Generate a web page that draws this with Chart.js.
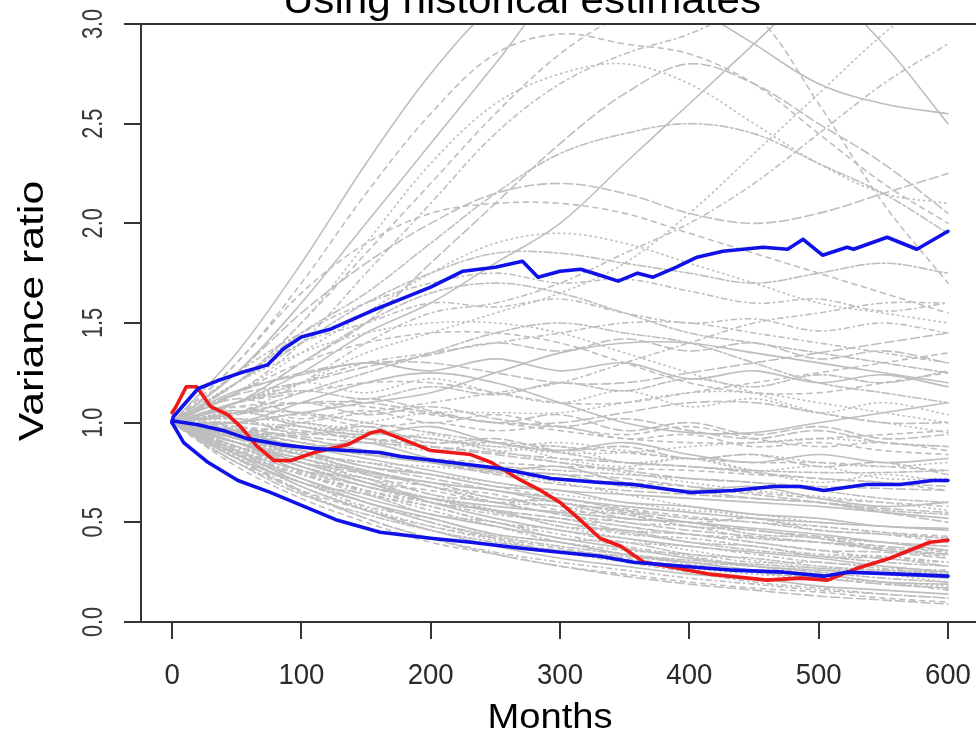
<!DOCTYPE html>
<html>
<head>
<meta charset="utf-8">
<script src="https://cdn.jsdelivr.net/npm/chart.js@4.4.1/dist/chart.umd.min.js"></script>
<style>
  html, body { margin: 0; padding: 0; background: #fff; }
  #wrap { position: relative; width: 976px; height: 739px; overflow: hidden; }
  #box { position: absolute; left: 0; top: -40px; width: 1010px; height: 779px; }
</style>
</head>
<body>
<div id="wrap"><div id="box"><canvas id="varianceChart"></canvas></div></div>
<script>
var months = [0, 50, 100, 150, 200, 250, 300, 350, 400, 450, 500, 550, 600];
var xTicks = [0, 100, 200, 300, 400, 500, 600];
var yTicks = [0, 0.5, 1, 1.5, 2, 2.5, 3];

// simulated paths (grey), read at every 50 months
var grayRuns = [
    [1.0, 1.25, 1.6, 2.0, 2.4, 2.8, 3.2, 3.4, 3.5, 3.3, 3.2, 2.9, 2.5],
    [1.0, 1.3, 1.7, 2.15, 2.55, 2.85, 2.95, 2.9, 2.85, 2.7, 2.45, 2.2, 2.0],
    [1.0, 1.2, 1.5, 1.9, 2.3, 2.6, 2.75, 2.8, 2.7, 2.5, 2.3, 2.15, 2.1],
    [1.0, 1.15, 1.4, 1.75, 2.1, 2.45, 2.7, 2.85, 2.95, 3.1, 3.2, 3.2, 3.1],
    [1.0, 1.1, 1.3, 1.5, 1.8, 2.1, 2.4, 2.65, 2.8, 2.7, 2.5, 2.3, 2.05],
    [1.0, 1.2, 1.45, 1.65, 1.9, 2.15, 2.35, 2.45, 2.5, 2.45, 2.3, 2.15, 1.95],
    [1.0, 1.1, 1.25, 1.45, 1.6, 1.8, 2.0, 2.3, 2.6, 2.9, 3.2, 3.4, 3.5],
    [1.0, 1.3, 1.65, 1.9, 2.05, 2.1, 2.1, 2.05, 1.95, 1.85, 1.75, 1.65, 1.55],
    [1.0, 1.15, 1.35, 1.55, 1.75, 1.9, 1.95, 1.9, 1.8, 1.7, 1.6, 1.55, 1.5],
    [1.0, 1.05, 1.2, 1.4, 1.55, 1.6, 1.7, 1.85, 2.0, 2.2, 2.45, 2.7, 2.9],
    [1.0, 1.25, 1.55, 1.8, 2.0, 2.15, 2.2, 2.15, 2.05, 2.0, 2.05, 2.15, 2.25],
    [1.0, 1.2, 1.4, 1.6, 1.75, 1.85, 1.85, 1.8, 1.75, 1.7, 1.75, 1.8, 1.75],
    [1.0, 1.35, 1.8, 2.3, 2.75, 3.1, 3.3, 3.3, 3.1, 2.9, 2.7, 2.6, 2.55],
    [1.0, 1.2, 1.5, 1.85, 2.2, 2.55, 2.85, 3.05, 3.15, 3.05, 2.6, 2.1, 1.7],
    [1.0, 1.1, 1.2, 1.35, 1.45, 1.55, 1.65, 1.8, 2.05, 2.35, 2.65, 2.95, 3.2],
    [1.0, 1.1, 1.2, 1.3, 1.35, 1.4, 1.45, 1.5, 1.5, 1.45, 1.4, 1.35, 1.3],
    [1.0, 1.15, 1.25, 1.3, 1.3, 1.25, 1.2, 1.2, 1.25, 1.3, 1.35, 1.4, 1.45],
    [1.0, 1.05, 1.15, 1.25, 1.35, 1.45, 1.5, 1.45, 1.4, 1.3, 1.2, 1.15, 1.1],
    [1.0, 1.0, 1.05, 1.1, 1.15, 1.25, 1.35, 1.4, 1.4, 1.35, 1.3, 1.25, 1.2],
    [1.0, 1.1, 1.15, 1.2, 1.2, 1.15, 1.1, 1.1, 1.15, 1.2, 1.25, 1.3, 1.35],
    [1.0, 1.2, 1.35, 1.45, 1.5, 1.5, 1.45, 1.35, 1.25, 1.15, 1.05, 1.0, 0.95],
    [1.0, 0.95, 1.0, 1.05, 1.1, 1.15, 1.2, 1.3, 1.4, 1.5, 1.55, 1.6, 1.6],
    [1.0, 1.05, 1.1, 1.1, 1.05, 1.0, 1.0, 1.05, 1.1, 1.1, 1.05, 1.0, 1.0],
    [1.0, 1.1, 1.3, 1.5, 1.65, 1.7, 1.65, 1.55, 1.45, 1.4, 1.35, 1.3, 1.25],
    [1.0, 1.0, 1.1, 1.2, 1.25, 1.2, 1.1, 1.0, 0.95, 0.95, 1.0, 1.05, 1.1],
    [1.0, 1.15, 1.3, 1.4, 1.45, 1.45, 1.4, 1.3, 1.2, 1.15, 1.15, 1.2, 1.25],
    [1.0, 0.95, 0.95, 1.0, 1.05, 1.05, 1.05, 1.1, 1.15, 1.15, 1.1, 1.05, 1.0],
    [1.0, 0.85, 0.7, 0.6, 0.5, 0.42, 0.35, 0.3, 0.25, 0.2, 0.17, 0.14, 0.12],
    [1.0, 0.82, 0.65, 0.52, 0.42, 0.34, 0.28, 0.23, 0.19, 0.16, 0.13, 0.11, 0.09],
    [1.0, 0.88, 0.78, 0.7, 0.62, 0.55, 0.5, 0.45, 0.4, 0.36, 0.33, 0.3, 0.28],
    [1.0, 0.9, 0.82, 0.75, 0.7, 0.66, 0.62, 0.58, 0.55, 0.52, 0.5, 0.48, 0.46],
    [1.0, 0.95, 0.9, 0.85, 0.8, 0.75, 0.72, 0.7, 0.68, 0.65, 0.62, 0.6, 0.58],
    [1.0, 0.92, 0.85, 0.8, 0.78, 0.75, 0.7, 0.64, 0.58, 0.52, 0.48, 0.45, 0.42],
    [1.0, 0.86, 0.74, 0.66, 0.6, 0.56, 0.52, 0.48, 0.44, 0.4, 0.36, 0.32, 0.3],
    [1.0, 0.97, 0.93, 0.9, 0.88, 0.85, 0.82, 0.8, 0.78, 0.75, 0.72, 0.7, 0.68],
    [1.0, 0.8, 0.64, 0.54, 0.46, 0.4, 0.36, 0.33, 0.3, 0.28, 0.25, 0.22, 0.2],
    [1.0, 0.9, 0.8, 0.7, 0.6, 0.52, 0.46, 0.42, 0.38, 0.35, 0.32, 0.28, 0.25],
    [1.0, 0.98, 0.95, 0.92, 0.9, 0.9, 0.88, 0.85, 0.82, 0.8, 0.8, 0.78, 0.76],
    [1.0, 1.0, 0.98, 0.95, 0.92, 0.88, 0.85, 0.85, 0.88, 0.9, 0.92, 0.9, 0.88],
    [1.0, 0.88, 0.76, 0.66, 0.58, 0.5, 0.44, 0.38, 0.33, 0.28, 0.24, 0.2, 0.16],
    [1.0, 0.93, 0.86, 0.78, 0.72, 0.66, 0.6, 0.55, 0.5, 0.46, 0.43, 0.4, 0.38],
    [1.0, 0.96, 0.9, 0.84, 0.8, 0.78, 0.76, 0.74, 0.72, 0.7, 0.66, 0.62, 0.6],
    [1.0, 0.84, 0.72, 0.62, 0.54, 0.48, 0.42, 0.37, 0.32, 0.28, 0.26, 0.24, 0.22],
    [1.0, 0.9, 0.84, 0.8, 0.74, 0.68, 0.62, 0.57, 0.53, 0.5, 0.48, 0.45, 0.43],
    [1.0, 1.02, 1.0, 0.96, 0.92, 0.86, 0.8, 0.75, 0.7, 0.66, 0.63, 0.6, 0.56],
    [1.0, 0.87, 0.75, 0.65, 0.56, 0.48, 0.4, 0.34, 0.29, 0.25, 0.22, 0.19, 0.17],
    [1.0, 0.94, 0.88, 0.84, 0.8, 0.76, 0.74, 0.72, 0.68, 0.64, 0.6, 0.55, 0.5],
    [1.0, 1.05, 1.05, 1.0, 0.95, 0.9, 0.85, 0.8, 0.78, 0.76, 0.75, 0.75, 0.76],
    [1.0, 0.9, 0.78, 0.68, 0.62, 0.58, 0.55, 0.52, 0.5, 0.47, 0.44, 0.4, 0.36],
    [1.0, 0.98, 0.92, 0.86, 0.82, 0.8, 0.78, 0.77, 0.76, 0.74, 0.72, 0.7, 0.66],
    [1.0, 0.83, 0.68, 0.57, 0.48, 0.41, 0.35, 0.31, 0.27, 0.24, 0.22, 0.2, 0.18],
    [1.0, 0.92, 0.84, 0.76, 0.68, 0.6, 0.54, 0.48, 0.44, 0.42, 0.4, 0.38, 0.35],
    [1.0, 1.0, 0.96, 0.92, 0.88, 0.84, 0.8, 0.76, 0.72, 0.7, 0.68, 0.67, 0.66],
    [1.0, 0.86, 0.72, 0.6, 0.5, 0.43, 0.38, 0.34, 0.31, 0.29, 0.27, 0.26, 0.25],
    [1.0, 0.95, 0.88, 0.82, 0.76, 0.7, 0.66, 0.64, 0.62, 0.6, 0.58, 0.55, 0.52],
    [1.0, 1.08, 1.1, 1.08, 1.04, 1.0, 0.96, 0.92, 0.9, 0.9, 0.92, 0.94, 0.96],
    [1.0, 0.9, 0.8, 0.72, 0.64, 0.56, 0.48, 0.42, 0.36, 0.31, 0.27, 0.24, 0.2],
    [1.0, 0.82, 0.66, 0.52, 0.42, 0.35, 0.3, 0.26, 0.22, 0.19, 0.16, 0.14, 0.12],
    [1.0, 0.96, 0.92, 0.86, 0.8, 0.74, 0.69, 0.66, 0.64, 0.62, 0.6, 0.57, 0.55],
    [1.0, 0.9, 0.86, 0.74, 0.7, 0.62, 0.6, 0.52, 0.5, 0.44, 0.42, 0.36, 0.34],
    [1.0, 1.06, 0.98, 0.94, 0.98, 0.9, 0.86, 0.9, 0.84, 0.8, 0.84, 0.8, 0.82],
    [1.0, 0.85, 0.8, 0.7, 0.66, 0.6, 0.62, 0.56, 0.5, 0.52, 0.46, 0.44, 0.4],
    [1.0, 0.94, 1.0, 0.92, 0.86, 0.9, 0.82, 0.78, 0.82, 0.76, 0.7, 0.74, 0.7],
    [1.0, 0.8, 0.7, 0.58, 0.52, 0.44, 0.4, 0.36, 0.34, 0.3, 0.3, 0.27, 0.26],
    [1.0, 1.12, 1.05, 1.12, 1.06, 1.0, 1.04, 0.96, 1.0, 0.94, 0.98, 0.92, 0.94],
    [1.0, 0.9, 0.76, 0.72, 0.6, 0.56, 0.48, 0.46, 0.4, 0.38, 0.33, 0.32, 0.28],
    [1.0, 0.96, 0.88, 0.9, 0.82, 0.76, 0.78, 0.7, 0.66, 0.68, 0.62, 0.58, 0.6],
    [1.0, 0.78, 0.62, 0.5, 0.4, 0.34, 0.28, 0.24, 0.2, 0.17, 0.15, 0.12, 0.1],
    [1.0, 1.1, 1.2, 1.15, 1.22, 1.15, 1.1, 1.16, 1.08, 1.12, 1.05, 1.1, 1.04],
    [1.0, 0.88, 0.82, 0.72, 0.68, 0.6, 0.58, 0.5, 0.48, 0.42, 0.4, 0.36, 0.33],
    [1.0, 1.02, 0.94, 0.98, 0.9, 0.92, 0.86, 0.88, 0.82, 0.84, 0.78, 0.8, 0.74],
    [1.0, 0.86, 0.7, 0.64, 0.54, 0.5, 0.42, 0.4, 0.34, 0.32, 0.28, 0.26, 0.24],
    [1.0, 1.16, 1.24, 1.3, 1.26, 1.32, 1.26, 1.3, 1.22, 1.26, 1.2, 1.24, 1.18],
    [1.0, 0.92, 0.8, 0.76, 0.68, 0.64, 0.56, 0.54, 0.48, 0.46, 0.42, 0.38, 0.36],
    [1.0, 0.95, 0.98, 0.9, 0.94, 0.86, 0.88, 0.8, 0.82, 0.76, 0.78, 0.72, 0.72],
    [1.0, 0.84, 0.74, 0.64, 0.58, 0.5, 0.46, 0.4, 0.38, 0.34, 0.3, 0.28, 0.25],
    [1.0, 1.04, 1.1, 1.04, 1.08, 1.02, 0.98, 1.02, 0.96, 0.92, 0.96, 0.9, 0.88],
    [1.0, 0.9, 0.84, 0.76, 0.7, 0.66, 0.6, 0.56, 0.52, 0.5, 0.46, 0.44, 0.42],
    [1.0, 0.82, 0.7, 0.6, 0.52, 0.44, 0.4, 0.34, 0.3, 0.26, 0.24, 0.2, 0.19],
    [1.0, 1.08, 1.02, 1.06, 1.0, 1.04, 0.98, 0.94, 0.98, 0.92, 0.88, 0.9, 0.86],
    [1.0, 0.93, 0.84, 0.8, 0.74, 0.7, 0.64, 0.6, 0.56, 0.54, 0.5, 0.48, 0.46],
    [1.0, 0.88, 0.78, 0.68, 0.6, 0.54, 0.5, 0.44, 0.42, 0.38, 0.34, 0.33, 0.3],
    [1.0, 1.14, 1.2, 1.28, 1.34, 1.4, 1.36, 1.42, 1.36, 1.4, 1.32, 1.36, 1.3],
    [1.0, 0.96, 0.9, 0.84, 0.82, 0.76, 0.74, 0.68, 0.66, 0.62, 0.6, 0.56, 0.54],
    [1.0, 0.84, 0.68, 0.56, 0.46, 0.38, 0.32, 0.28, 0.24, 0.22, 0.18, 0.16, 0.14],
    [1.0, 1.0, 1.04, 0.98, 1.0, 0.96, 0.98, 0.92, 0.94, 0.88, 0.9, 0.86, 0.84],
    [1.0, 0.9, 0.82, 0.76, 0.68, 0.62, 0.58, 0.54, 0.48, 0.46, 0.42, 0.4, 0.38],
    [1.0, 1.2, 1.4, 1.5, 1.6, 1.58, 1.62, 1.55, 1.5, 1.52, 1.46, 1.5, 1.45],
    [1.0, 0.86, 0.76, 0.68, 0.62, 0.56, 0.52, 0.46, 0.44, 0.4, 0.36, 0.35, 0.32],
    [1.0, 1.1, 1.16, 1.12, 1.18, 1.14, 1.2, 1.16, 1.22, 1.18, 1.24, 1.2, 1.26],
    [1.0, 0.92, 0.86, 0.78, 0.74, 0.68, 0.66, 0.6, 0.58, 0.54, 0.52, 0.48, 0.47],
    [1.0, 0.8, 0.66, 0.56, 0.48, 0.42, 0.37, 0.32, 0.28, 0.25, 0.22, 0.19, 0.17],
    [1.0, 1.05, 1.0, 0.95, 0.92, 0.88, 0.9, 0.86, 0.82, 0.84, 0.8, 0.78, 0.8],
    [1.0, 1.25, 1.45, 1.6, 1.7, 1.75, 1.7, 1.72, 1.66, 1.6, 1.62, 1.56, 1.6],
    [1.0, 0.9, 0.8, 0.74, 0.64, 0.6, 0.54, 0.5, 0.46, 0.43, 0.4, 0.37, 0.34]
];

// highlighted paths
var upperMonths = [0, 1, 20, 35, 53, 74, 86, 100, 123, 154, 177, 200, 225, 250, 271, 283, 300, 316, 331, 345, 360, 372, 390, 406, 426, 457, 476, 488, 503, 522, 527, 553, 576, 600];
var upperValues = [1.0, 1.03, 1.17, 1.21, 1.25, 1.29, 1.37, 1.43, 1.47, 1.56, 1.62, 1.68, 1.76, 1.78, 1.81, 1.73, 1.76, 1.77, 1.74, 1.71, 1.75, 1.73, 1.78, 1.83, 1.86, 1.88, 1.87, 1.92, 1.84, 1.88, 1.87, 1.93, 1.87, 1.96];
var middleMonths = [0, 20, 40, 58, 84, 110, 136, 161, 177, 216, 254, 293, 331, 357, 401, 434, 465, 486, 504, 537, 563, 588, 600];
var middleValues = [1.01, 0.99, 0.96, 0.92, 0.89, 0.87, 0.86, 0.85, 0.83, 0.8, 0.77, 0.72, 0.7, 0.69, 0.65, 0.66, 0.68, 0.68, 0.66, 0.69, 0.69, 0.71, 0.71];
var lowerMonths = [0, 9, 28, 51, 76, 102, 128, 161, 200, 231, 270, 300, 331, 357, 395, 434, 473, 504, 522, 563, 600];
var lowerValues = [1.0, 0.9, 0.8, 0.71, 0.65, 0.58, 0.51, 0.45, 0.42, 0.4, 0.37, 0.35, 0.33, 0.3, 0.28, 0.26, 0.25, 0.23, 0.25, 0.24, 0.23];
var redMonths = [0, 3, 11, 19, 30, 43, 53, 66, 79, 92, 110, 136, 154, 161, 177, 200, 231, 247, 270, 285, 300, 316, 331, 347, 365, 383, 416, 460, 486, 507, 530, 555, 586, 600];
var redValues = [1.05, 1.08, 1.18, 1.18, 1.08, 1.04, 0.98, 0.88, 0.81, 0.81, 0.85, 0.89, 0.95, 0.96, 0.92, 0.86, 0.84, 0.8, 0.71, 0.66, 0.6, 0.51, 0.42, 0.38, 0.3, 0.28, 0.24, 0.21, 0.22, 0.21, 0.27, 0.32, 0.4, 0.41];

// R line types 1..6
var dashes = [[], [5, 5], [1.3, 4], [1.3, 4, 5, 4], [9, 4], [2.6, 2.6, 8, 2.6]];

function pairs(xs, ys) {
    return xs.map(function (x, i) { return { x: x, y: ys[i] }; });
}

var datasets = [
    { data: pairs(upperMonths, upperValues), borderColor: "#1010e8", borderWidth: 3.6 },
    { data: pairs(middleMonths, middleValues), borderColor: "#1010e8", borderWidth: 3.6 },
    { data: pairs(lowerMonths, lowerValues), borderColor: "#1010e8", borderWidth: 3.6 },
    { data: pairs(redMonths, redValues), borderColor: "#ee1a1a", borderWidth: 3.6 }
];
grayRuns.forEach(function (run, i) {
    datasets.push({
        data: pairs(months, run),
        borderColor: "#bebebe",
        borderWidth: 1.6,
        borderDash: dashes[i % 6],
        tension: 0.35
    });
});

var font = "'Liberation Sans', Arial, sans-serif";

function drawLabel(ctx, str, x, y, size, stretch, rot, color) {
    ctx.save();
    ctx.translate(x, y);
    if (rot) ctx.rotate(rot);
    ctx.scale(stretch, 1);
    ctx.font = size + "px " + font;
    ctx.fillStyle = color;
    ctx.textAlign = "center";
    ctx.textBaseline = "alphabetic";
    ctx.fillText(str, 0, 0);
    ctx.restore();
}

var frame = {
    id: "frame",
    afterDraw: function (chart) {
        var ctx = chart.ctx, a = chart.chartArea;
        var xs = chart.scales.x, ys = chart.scales.y;
        ctx.save();
        ctx.strokeStyle = "#333";
        ctx.lineWidth = 2;
        ctx.strokeRect(a.left, a.top, a.right - a.left, a.bottom - a.top);
        ctx.beginPath();
        xTicks.forEach(function (t) {
            var px = Math.round(xs.getPixelForValue(t));
            ctx.moveTo(px, a.bottom);
            ctx.lineTo(px, a.bottom + 17);
        });
        yTicks.forEach(function (t) {
            var py = Math.round(ys.getPixelForValue(t));
            ctx.moveTo(a.left, py);
            ctx.lineTo(a.left - 17, py);
        });
        ctx.stroke();
        ctx.restore();

        xTicks.forEach(function (t) {
            drawLabel(ctx, String(t), xs.getPixelForValue(t), a.bottom + 62, 29, 0.95, 0, "#2a2a2a");
        });
        yTicks.forEach(function (t) {
            drawLabel(ctx, t.toFixed(1), a.left - 39, ys.getPixelForValue(t), 29, 0.75, -Math.PI / 2, "#3a3a3a");
        });
        drawLabel(ctx, "Months", 550, a.bottom + 106, 35, 1.09, 0, "#000");
        drawLabel(ctx, "Variance ratio", a.left - 98, a.top + 287, 35, 1.22, -Math.PI / 2, "#000");
        drawLabel(ctx, "Using historical estimates", 522, a.top - 11, 38, 1.11, 0, "#000");
    }
};

new Chart("varianceChart", {
    type: "line",
    data: { datasets: datasets },
    options: {
        responsive: true,
        maintainAspectRatio: false,
        animation: false,
        events: [],
        layout: { padding: { left: 141, top: 64, right: 31, bottom: 117 } },
        elements: {
            point: { radius: 0 },
            line: { fill: false, borderCapStyle: "round", borderJoinStyle: "round" }
        },
        plugins: {
            legend: { display: false },
            tooltip: { enabled: false }
        },
        scales: {
            x: { type: "linear", min: -24, max: 624, display: false },
            y: { min: 0, max: 3, display: false }
        }
    },
    plugins: [frame]
});
</script>
</body>
</html>
